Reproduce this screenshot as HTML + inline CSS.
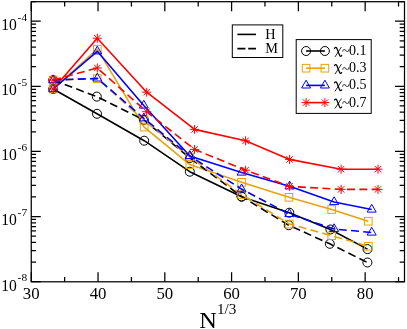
<!DOCTYPE html>
<html><head><meta charset="utf-8"><title>chart</title>
<style>html,body{margin:0;padding:0;background:#fff;width:407px;height:329px;overflow:hidden;font-family:"Liberation Serif",serif}</style>
</head><body>
<svg width="407" height="329" viewBox="0 0 407 329" style="position:absolute;left:0;top:0">
<rect width="407" height="329" fill="#fff"/>
<clipPath id="cp"><rect x="31.25" y="1.7" width="373.25" height="280.1"/></clipPath>
<g clip-path="url(#cp)">
<path d="M53.20 89.00L97.00 113.80L144.20 140.70L189.80 171.70L241.60 196.70L289.30 212.70L330.40 229.50L367.50 249.10" fill="none" stroke="#000000" stroke-width="1.6" stroke-linejoin="round"/>
<circle cx="53.20" cy="89.00" r="4.50" fill="none" stroke="#000000" stroke-width="1.0"/>
<circle cx="97.00" cy="113.80" r="4.50" fill="none" stroke="#000000" stroke-width="1.0"/>
<circle cx="144.20" cy="140.70" r="4.50" fill="none" stroke="#000000" stroke-width="1.0"/>
<circle cx="189.80" cy="171.70" r="4.50" fill="none" stroke="#000000" stroke-width="1.0"/>
<circle cx="241.60" cy="196.70" r="4.50" fill="none" stroke="#000000" stroke-width="1.0"/>
<circle cx="289.30" cy="212.70" r="4.50" fill="none" stroke="#000000" stroke-width="1.0"/>
<circle cx="330.40" cy="229.50" r="4.50" fill="none" stroke="#000000" stroke-width="1.0"/>
<circle cx="367.50" cy="249.10" r="4.50" fill="none" stroke="#000000" stroke-width="1.0"/>
<path d="M53.20 89.00L97.30 49.20L144.20 127.10L189.80 164.60L241.60 182.30L289.00 197.30L331.70 209.50L368.30 221.20" fill="none" stroke="#E8A20C" stroke-width="1.6" stroke-linejoin="round"/>
<rect x="49.38" y="85.17" width="7.65" height="7.65" fill="none" stroke="#E8A20C" stroke-width="1.0"/>
<rect x="93.47" y="45.38" width="7.65" height="7.65" fill="none" stroke="#E8A20C" stroke-width="1.0"/>
<rect x="140.38" y="123.27" width="7.65" height="7.65" fill="none" stroke="#E8A20C" stroke-width="1.0"/>
<rect x="185.98" y="160.78" width="7.65" height="7.65" fill="none" stroke="#E8A20C" stroke-width="1.0"/>
<rect x="237.78" y="178.48" width="7.65" height="7.65" fill="none" stroke="#E8A20C" stroke-width="1.0"/>
<rect x="285.18" y="193.48" width="7.65" height="7.65" fill="none" stroke="#E8A20C" stroke-width="1.0"/>
<rect x="327.88" y="205.68" width="7.65" height="7.65" fill="none" stroke="#E8A20C" stroke-width="1.0"/>
<rect x="364.48" y="217.38" width="7.65" height="7.65" fill="none" stroke="#E8A20C" stroke-width="1.0"/>
<path d="M53.20 89.00L97.30 51.30L143.80 105.50L189.80 156.00L241.60 172.50L289.60 186.30L334.10 202.00L371.70 209.50" fill="none" stroke="#0000FF" stroke-width="1.6" stroke-linejoin="round"/>
<path d="M53.20 83.80L48.70 91.60L57.70 91.60Z" fill="none" stroke="#0000FF" stroke-width="1.0"/>
<path d="M97.30 46.10L92.80 53.90L101.80 53.90Z" fill="none" stroke="#0000FF" stroke-width="1.0"/>
<path d="M143.80 100.30L139.30 108.10L148.30 108.10Z" fill="none" stroke="#0000FF" stroke-width="1.0"/>
<path d="M189.80 150.80L185.30 158.60L194.30 158.60Z" fill="none" stroke="#0000FF" stroke-width="1.0"/>
<path d="M241.60 167.30L237.10 175.10L246.10 175.10Z" fill="none" stroke="#0000FF" stroke-width="1.0"/>
<path d="M289.60 181.10L285.10 188.90L294.10 188.90Z" fill="none" stroke="#0000FF" stroke-width="1.0"/>
<path d="M334.10 196.80L329.60 204.60L338.60 204.60Z" fill="none" stroke="#0000FF" stroke-width="1.0"/>
<path d="M371.70 204.30L367.20 212.10L376.20 212.10Z" fill="none" stroke="#0000FF" stroke-width="1.0"/>
<path d="M53.20 89.00L97.30 38.20L146.70 92.20L194.60 129.40L245.60 140.80L289.60 159.40L341.10 169.20L378.00 169.20" fill="none" stroke="#FF0000" stroke-width="1.6" stroke-linejoin="round"/>
<path d="M48.70 89.00H57.70M53.20 84.50V93.50M50.02 85.82L56.38 92.18M50.02 92.18L56.38 85.82" fill="none" stroke="#FF0000" stroke-width="1.0"/>
<path d="M92.80 38.20H101.80M97.30 33.70V42.70M94.12 35.02L100.48 41.38M94.12 41.38L100.48 35.02" fill="none" stroke="#FF0000" stroke-width="1.0"/>
<path d="M142.20 92.20H151.20M146.70 87.70V96.70M143.52 89.02L149.88 95.38M143.52 95.38L149.88 89.02" fill="none" stroke="#FF0000" stroke-width="1.0"/>
<path d="M190.10 129.40H199.10M194.60 124.90V133.90M191.42 126.22L197.78 132.58M191.42 132.58L197.78 126.22" fill="none" stroke="#FF0000" stroke-width="1.0"/>
<path d="M241.10 140.80H250.10M245.60 136.30V145.30M242.42 137.62L248.78 143.98M242.42 143.98L248.78 137.62" fill="none" stroke="#FF0000" stroke-width="1.0"/>
<path d="M285.10 159.40H294.10M289.60 154.90V163.90M286.42 156.22L292.78 162.58M286.42 162.58L292.78 156.22" fill="none" stroke="#FF0000" stroke-width="1.0"/>
<path d="M336.60 169.20H345.60M341.10 164.70V173.70M337.92 166.02L344.28 172.38M337.92 172.38L344.28 166.02" fill="none" stroke="#FF0000" stroke-width="1.0"/>
<path d="M373.50 169.20H382.50M378.00 164.70V173.70M374.82 166.02L381.18 172.38M374.82 172.38L381.18 166.02" fill="none" stroke="#FF0000" stroke-width="1.0"/>
<path d="M53.20 80.10L96.80 96.60L144.00 120.00L189.80 158.00L241.60 196.50L288.70 225.20L329.80 243.80L367.40 262.50" fill="none" stroke="#000000" stroke-width="1.6" stroke-linejoin="round" stroke-dasharray="8 4.3"/>
<circle cx="53.20" cy="80.10" r="4.50" fill="none" stroke="#000000" stroke-width="1.0"/>
<circle cx="96.80" cy="96.60" r="4.50" fill="none" stroke="#000000" stroke-width="1.0"/>
<circle cx="144.00" cy="120.00" r="4.50" fill="none" stroke="#000000" stroke-width="1.0"/>
<circle cx="189.80" cy="158.00" r="4.50" fill="none" stroke="#000000" stroke-width="1.0"/>
<circle cx="241.60" cy="196.50" r="4.50" fill="none" stroke="#000000" stroke-width="1.0"/>
<circle cx="288.70" cy="225.20" r="4.50" fill="none" stroke="#000000" stroke-width="1.0"/>
<circle cx="329.80" cy="243.80" r="4.50" fill="none" stroke="#000000" stroke-width="1.0"/>
<circle cx="367.40" cy="262.50" r="4.50" fill="none" stroke="#000000" stroke-width="1.0"/>
<path d="M53.20 80.10L97.30 78.60L144.00 120.30L189.80 157.00L241.60 194.50L289.30 224.00L331.70 235.70L368.40 246.30" fill="none" stroke="#E8A20C" stroke-width="1.6" stroke-linejoin="round" stroke-dasharray="8 4.3"/>
<rect x="49.38" y="76.27" width="7.65" height="7.65" fill="none" stroke="#E8A20C" stroke-width="1.0"/>
<rect x="93.47" y="74.77" width="7.65" height="7.65" fill="none" stroke="#E8A20C" stroke-width="1.0"/>
<rect x="140.18" y="116.47" width="7.65" height="7.65" fill="none" stroke="#E8A20C" stroke-width="1.0"/>
<rect x="185.98" y="153.18" width="7.65" height="7.65" fill="none" stroke="#E8A20C" stroke-width="1.0"/>
<rect x="237.78" y="190.68" width="7.65" height="7.65" fill="none" stroke="#E8A20C" stroke-width="1.0"/>
<rect x="285.48" y="220.18" width="7.65" height="7.65" fill="none" stroke="#E8A20C" stroke-width="1.0"/>
<rect x="327.88" y="231.88" width="7.65" height="7.65" fill="none" stroke="#E8A20C" stroke-width="1.0"/>
<rect x="364.57" y="242.48" width="7.65" height="7.65" fill="none" stroke="#E8A20C" stroke-width="1.0"/>
<path d="M53.20 80.10L97.30 78.40L143.80 118.30L189.80 156.00L241.60 189.20L289.30 214.00L334.10 229.00L371.70 232.50" fill="none" stroke="#0000FF" stroke-width="1.6" stroke-linejoin="round" stroke-dasharray="8 4.3"/>
<path d="M53.20 74.90L48.70 82.70L57.70 82.70Z" fill="none" stroke="#0000FF" stroke-width="1.0"/>
<path d="M97.30 73.20L92.80 81.00L101.80 81.00Z" fill="none" stroke="#0000FF" stroke-width="1.0"/>
<path d="M143.80 113.10L139.30 120.90L148.30 120.90Z" fill="none" stroke="#0000FF" stroke-width="1.0"/>
<path d="M189.80 150.80L185.30 158.60L194.30 158.60Z" fill="none" stroke="#0000FF" stroke-width="1.0"/>
<path d="M241.60 184.00L237.10 191.80L246.10 191.80Z" fill="none" stroke="#0000FF" stroke-width="1.0"/>
<path d="M289.30 208.80L284.80 216.60L293.80 216.60Z" fill="none" stroke="#0000FF" stroke-width="1.0"/>
<path d="M334.10 223.80L329.60 231.60L338.60 231.60Z" fill="none" stroke="#0000FF" stroke-width="1.0"/>
<path d="M371.70 227.30L367.20 235.10L376.20 235.10Z" fill="none" stroke="#0000FF" stroke-width="1.0"/>
<path d="M53.20 80.10L97.30 68.00L146.70 111.70L194.60 149.40L245.60 170.20L289.60 186.40L341.10 189.40L378.00 189.40" fill="none" stroke="#FF0000" stroke-width="1.6" stroke-linejoin="round" stroke-dasharray="8 4.3"/>
<path d="M48.70 80.10H57.70M53.20 75.60V84.60M50.02 76.92L56.38 83.28M50.02 83.28L56.38 76.92" fill="none" stroke="#FF0000" stroke-width="1.0"/>
<path d="M92.80 68.00H101.80M97.30 63.50V72.50M94.12 64.82L100.48 71.18M94.12 71.18L100.48 64.82" fill="none" stroke="#FF0000" stroke-width="1.0"/>
<path d="M142.20 111.70H151.20M146.70 107.20V116.20M143.52 108.52L149.88 114.88M143.52 114.88L149.88 108.52" fill="none" stroke="#FF0000" stroke-width="1.0"/>
<path d="M190.10 149.40H199.10M194.60 144.90V153.90M191.42 146.22L197.78 152.58M191.42 152.58L197.78 146.22" fill="none" stroke="#FF0000" stroke-width="1.0"/>
<path d="M241.10 170.20H250.10M245.60 165.70V174.70M242.42 167.02L248.78 173.38M242.42 173.38L248.78 167.02" fill="none" stroke="#FF0000" stroke-width="1.0"/>
<path d="M285.10 186.40H294.10M289.60 181.90V190.90M286.42 183.22L292.78 189.58M286.42 189.58L292.78 183.22" fill="none" stroke="#FF0000" stroke-width="1.0"/>
<path d="M336.60 189.40H345.60M341.10 184.90V193.90M337.92 186.22L344.28 192.58M337.92 192.58L344.28 186.22" fill="none" stroke="#FF0000" stroke-width="1.0"/>
<path d="M373.50 189.40H382.50M378.00 184.90V193.90M374.82 186.22L381.18 192.58M374.82 192.58L381.18 186.22" fill="none" stroke="#FF0000" stroke-width="1.0"/>
</g>
<path d="M31.25 281.8V272.30M31.25 1.7V11.20M64.64 281.8V277.00M64.64 1.7V6.50M98.03 281.8V272.30M98.03 1.7V11.20M131.42 281.8V277.00M131.42 1.7V6.50M164.81 281.8V272.30M164.81 1.7V11.20M198.20 281.8V277.00M198.20 1.7V6.50M231.59 281.8V272.30M231.59 1.7V11.20M264.98 281.8V277.00M264.98 1.7V6.50M298.37 281.8V272.30M298.37 1.7V11.20M331.76 281.8V277.00M331.76 1.7V6.50M365.15 281.8V272.30M365.15 1.7V11.20M398.54 281.8V277.00M398.54 1.7V6.50M31.25 281.60H40.75M404.5 281.60H395.00M31.25 262.00H36.05M404.5 262.00H399.70M31.25 250.54H36.05M404.5 250.54H399.70M31.25 242.41H36.05M404.5 242.41H399.70M31.25 236.10H36.05M404.5 236.10H399.70M31.25 230.94H36.05M404.5 230.94H399.70M31.25 226.58H36.05M404.5 226.58H399.70M31.25 222.81H36.05M404.5 222.81H399.70M31.25 219.48H36.05M404.5 219.48H399.70M31.25 216.50H40.75M404.5 216.50H395.00M31.25 196.90H36.05M404.5 196.90H399.70M31.25 185.44H36.05M404.5 185.44H399.70M31.25 177.31H36.05M404.5 177.31H399.70M31.25 171.00H36.05M404.5 171.00H399.70M31.25 165.84H36.05M404.5 165.84H399.70M31.25 161.48H36.05M404.5 161.48H399.70M31.25 157.71H36.05M404.5 157.71H399.70M31.25 154.38H36.05M404.5 154.38H399.70M31.25 151.40H40.75M404.5 151.40H395.00M31.25 131.80H36.05M404.5 131.80H399.70M31.25 120.34H36.05M404.5 120.34H399.70M31.25 112.21H36.05M404.5 112.21H399.70M31.25 105.90H36.05M404.5 105.90H399.70M31.25 100.74H36.05M404.5 100.74H399.70M31.25 96.38H36.05M404.5 96.38H399.70M31.25 92.61H36.05M404.5 92.61H399.70M31.25 89.28H36.05M404.5 89.28H399.70M31.25 86.30H40.75M404.5 86.30H395.00M31.25 66.70H36.05M404.5 66.70H399.70M31.25 55.24H36.05M404.5 55.24H399.70M31.25 47.11H36.05M404.5 47.11H399.70M31.25 40.80H36.05M404.5 40.80H399.70M31.25 35.64H36.05M404.5 35.64H399.70M31.25 31.28H36.05M404.5 31.28H399.70M31.25 27.51H36.05M404.5 27.51H399.70M31.25 24.18H36.05M404.5 24.18H399.70M31.25 21.20H40.75M404.5 21.20H395.00M31.25 1.60H36.05M404.5 1.60H399.70" stroke="#000" stroke-width="1.25" fill="none"/>
<rect x="31.25" y="1.7" width="373.25" height="280.1" fill="none" stroke="#000" stroke-width="1.25"/>
<rect x="232.3" y="24.9" width="50.5" height="32.6" fill="#fff" stroke="#000" stroke-width="1"/>
<path d="M237.4 34.4H256" stroke="#000" stroke-width="1.6"/>
<path d="M237.4 48.6H256" stroke="#000" stroke-width="1.6" stroke-dasharray="8 2.8"/>
<rect x="296.2" y="39.6" width="75.0" height="73.8" fill="#fff" stroke="#000" stroke-width="1"/>
<path d="M306.1 51.0H324.9" stroke="#000000" stroke-width="1.6"/>
<circle cx="306.10" cy="51.00" r="4.50" fill="none" stroke="#000000" stroke-width="1.0"/>
<circle cx="324.90" cy="51.00" r="4.50" fill="none" stroke="#000000" stroke-width="1.0"/>
<path d="M306.1 68.2H324.9" stroke="#E8A20C" stroke-width="1.6"/>
<rect x="302.28" y="64.38" width="7.65" height="7.65" fill="none" stroke="#E8A20C" stroke-width="1.0"/>
<rect x="321.07" y="64.38" width="7.65" height="7.65" fill="none" stroke="#E8A20C" stroke-width="1.0"/>
<path d="M306.1 85.4H324.9" stroke="#0000FF" stroke-width="1.6"/>
<path d="M306.10 80.20L301.60 88.00L310.60 88.00Z" fill="none" stroke="#0000FF" stroke-width="1.0"/>
<path d="M324.90 80.20L320.40 88.00L329.40 88.00Z" fill="none" stroke="#0000FF" stroke-width="1.0"/>
<path d="M306.1 102.6H324.9" stroke="#FF0000" stroke-width="1.6"/>
<path d="M301.60 102.60H310.60M306.10 98.10V107.10M302.92 99.42L309.28 105.78M302.92 105.78L309.28 99.42" fill="none" stroke="#FF0000" stroke-width="1.0"/>
<path d="M320.40 102.60H329.40M324.90 98.10V107.10M321.72 99.42L328.08 105.78M321.72 105.78L328.08 99.42" fill="none" stroke="#FF0000" stroke-width="1.0"/>
<filter id="idf" x="0" y="0" width="100%" height="100%" filterUnits="userSpaceOnUse" color-interpolation-filters="sRGB"><feOffset dx="0" dy="0"/></filter>
<g font-family="Liberation Serif, serif" fill="#000" filter="url(#idf)">
<text x="265.3" y="38.7" font-size="14.3">H</text>
<text x="265.3" y="52.9" font-size="14.3">M</text>
<g transform="translate(333.3,54.60)" fill="none" stroke="#000" stroke-linecap="round"><path d="M1.2 -6.2C1.6 -7.3 2.9 -7.6 3.5 -6.3L6.3 0.7C6.8 2.0 7.8 1.9 8.3 0.8" stroke-width="1.25"/><path d="M7.9 -7.3L1.9 2.0" stroke-width="0.85"/></g>
<text x="342.1" y="56.3" font-size="14.2">~</text>
<text x="349.0" y="55.0" font-size="14.0">0.1</text>
<g transform="translate(333.3,71.80)" fill="none" stroke="#000" stroke-linecap="round"><path d="M1.2 -6.2C1.6 -7.3 2.9 -7.6 3.5 -6.3L6.3 0.7C6.8 2.0 7.8 1.9 8.3 0.8" stroke-width="1.25"/><path d="M7.9 -7.3L1.9 2.0" stroke-width="0.85"/></g>
<text x="342.1" y="73.5" font-size="14.2">~</text>
<text x="349.0" y="72.2" font-size="14.0">0.3</text>
<g transform="translate(333.3,89.00)" fill="none" stroke="#000" stroke-linecap="round"><path d="M1.2 -6.2C1.6 -7.3 2.9 -7.6 3.5 -6.3L6.3 0.7C6.8 2.0 7.8 1.9 8.3 0.8" stroke-width="1.25"/><path d="M7.9 -7.3L1.9 2.0" stroke-width="0.85"/></g>
<text x="342.1" y="90.7" font-size="14.2">~</text>
<text x="349.0" y="89.4" font-size="14.0">0.5</text>
<g transform="translate(333.3,106.20)" fill="none" stroke="#000" stroke-linecap="round"><path d="M1.2 -6.2C1.6 -7.3 2.9 -7.6 3.5 -6.3L6.3 0.7C6.8 2.0 7.8 1.9 8.3 0.8" stroke-width="1.25"/><path d="M7.9 -7.3L1.9 2.0" stroke-width="0.85"/></g>
<text x="342.1" y="107.9" font-size="14.2">~</text>
<text x="349.0" y="106.6" font-size="14.0">0.7</text>
<text x="31.25" y="298.7" font-size="16.8" text-anchor="middle">30</text>
<text x="98.03" y="298.7" font-size="16.8" text-anchor="middle">40</text>
<text x="164.81" y="298.7" font-size="16.8" text-anchor="middle">50</text>
<text x="231.59" y="298.7" font-size="16.8" text-anchor="middle">60</text>
<text x="298.37" y="298.7" font-size="16.8" text-anchor="middle">70</text>
<text x="365.15" y="298.7" font-size="16.8" text-anchor="middle">80</text>
<text x="1.3" y="290.50" font-size="17" textLength="15.6" lengthAdjust="spacingAndGlyphs">10</text>
<text x="27.1" y="281.00" font-size="11.4" text-anchor="end">-8</text>
<text x="1.3" y="225.40" font-size="17" textLength="15.6" lengthAdjust="spacingAndGlyphs">10</text>
<text x="27.1" y="215.90" font-size="11.4" text-anchor="end">-7</text>
<text x="1.3" y="160.30" font-size="17" textLength="15.6" lengthAdjust="spacingAndGlyphs">10</text>
<text x="27.1" y="150.80" font-size="11.4" text-anchor="end">-6</text>
<text x="1.3" y="95.20" font-size="17" textLength="15.6" lengthAdjust="spacingAndGlyphs">10</text>
<text x="27.1" y="85.70" font-size="11.4" text-anchor="end">-5</text>
<text x="1.3" y="30.10" font-size="17" textLength="15.6" lengthAdjust="spacingAndGlyphs">10</text>
<text x="27.1" y="20.60" font-size="11.4" text-anchor="end">-4</text>
<text x="199.3" y="327.6" font-size="22.5" textLength="17.6" lengthAdjust="spacingAndGlyphs">N</text>
<text x="217.0" y="314.3" font-size="15.2">1/3</text>
</g>
</svg>
</body></html>
